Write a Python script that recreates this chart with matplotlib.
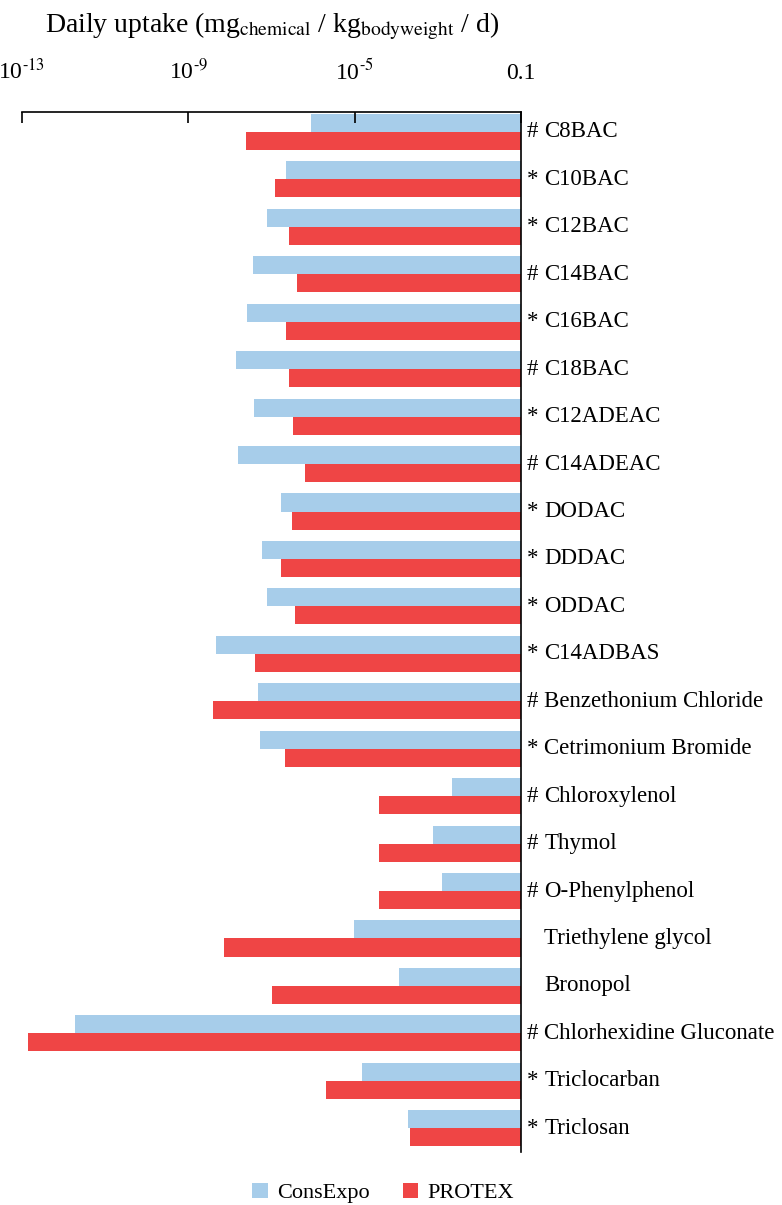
import matplotlib.pyplot as plt
import numpy as np

plt.rcParams['font.family'] = ['Liberation Serif', 'DejaVu Serif']
plt.rcParams['mathtext.fontset'] = 'stix'

chemicals = ["C8BAC", "C10BAC", "C12BAC", "C14BAC", "C16BAC", "C18BAC",
             "C12ADEAC", "C14ADEAC", "DODAC", "DDDAC", "ODDAC", "C14ADBAS",
             "Benzethonium Chloride", "Cetrimonium Bromide", "Chloroxylenol",
             "Thymol", "O-Phenylphenol", "Triethylene glycol", "Bronopol",
             "Chlorhexidine Gluconate", "Triclocarban", "Triclosan"]
marks = ["#", "*", "*", "#", "*", "#", "*", "#", "*", "*", "*", "*",
         "#", "*", "#", "#", "#", "", "", "#", "*", "*"]

consexpo = [9.2e-7, 2.3e-7, 8.0e-8, 3.7e-8, 2.6e-8, 1.4e-8,
            3.9e-8, 1.6e-8, 1.7e-7, 6.1e-8, 8.0e-8, 4.7e-9,
            4.9e-8, 5.4e-8, 2.2e-3, 7.6e-4, 1.25e-3, 9.5e-6,
            1.2e-4, 1.9e-12, 1.5e-5, 1.9e-4]
protex = [2.4e-8, 1.2e-7, 2.7e-7, 4.2e-7, 2.3e-7, 2.6e-7,
          3.4e-7, 6.6e-7, 3.2e-7, 1.7e-7, 3.8e-7, 4.1e-8,
          4.0e-9, 2.1e-7, 3.8e-5, 3.8e-5, 3.8e-5, 7.4e-9,
          1.06e-7, 1.4e-13, 2.1e-6, 2.2e-4]

xticks = [1e-13, 1e-9, 1e-5, 0.1]
xticklabels = [r"10$^{\text{-13}}$", r"10$^{\text{-9}}$",
               r"10$^{\text{-5}}$", "0.1"]

base = 0.1
blue = "#a7cdea"
red = "#ef4545"

fig = plt.figure(figsize=(7.82, 12.05), dpi=100)
ax = fig.add_axes([0.028, 0.044, 0.638, 0.863])

y = np.arange(len(chemicals))
h = 0.38
ax.barh(y - h / 2, np.array(consexpo) - base, left=base, height=h,
        color=blue, label="ConsExpo")
ax.barh(y + h / 2, np.array(protex) - base, left=base, height=h,
        color=red, label="PROTEX")

ax.set_xscale("log")
ax.set_xlim(1e-13, 0.1)
ax.set_ylim(len(chemicals) - 0.5, -0.42)

ax.xaxis.tick_top()
ax.set_xticks(xticks)
ax.set_xticklabels(xticklabels, fontsize=17)
ax.xaxis.set_minor_locator(plt.NullLocator())
ax.tick_params(axis="x", direction="in", length=8, width=1.2, pad=20)
ax.set_yticks([])

for s in ["left", "bottom"]:
    ax.spines[s].set_visible(False)
ax.spines["top"].set_linewidth(1.2)
ax.spines["right"].set_linewidth(1.2)

trans = ax.get_yaxis_transform()
for i, (m, name) in enumerate(zip(marks, chemicals)):
    if m:
        ax.text(1.012, i, m, transform=trans, ha="left", va="center", fontsize=16.5)
    ax.text(1.047, i, name, transform=trans, ha="left", va="center", fontsize=16.5)

fig.text(0.348, 0.978, r"Daily uptake (mg$_{\mathrm{chemical}}$ / kg$_{\mathrm{bodyweight}}$ / d)",
         ha="center", va="center", fontsize=20)

fig.legend(loc="center", bbox_to_anchor=(0.49, 0.01), ncol=2, frameon=False,
           fontsize=16, handlelength=0.7, handleheight=0.7, columnspacing=1.5,
           handletextpad=0.4)

fig.savefig("out.png", dpi=100)
